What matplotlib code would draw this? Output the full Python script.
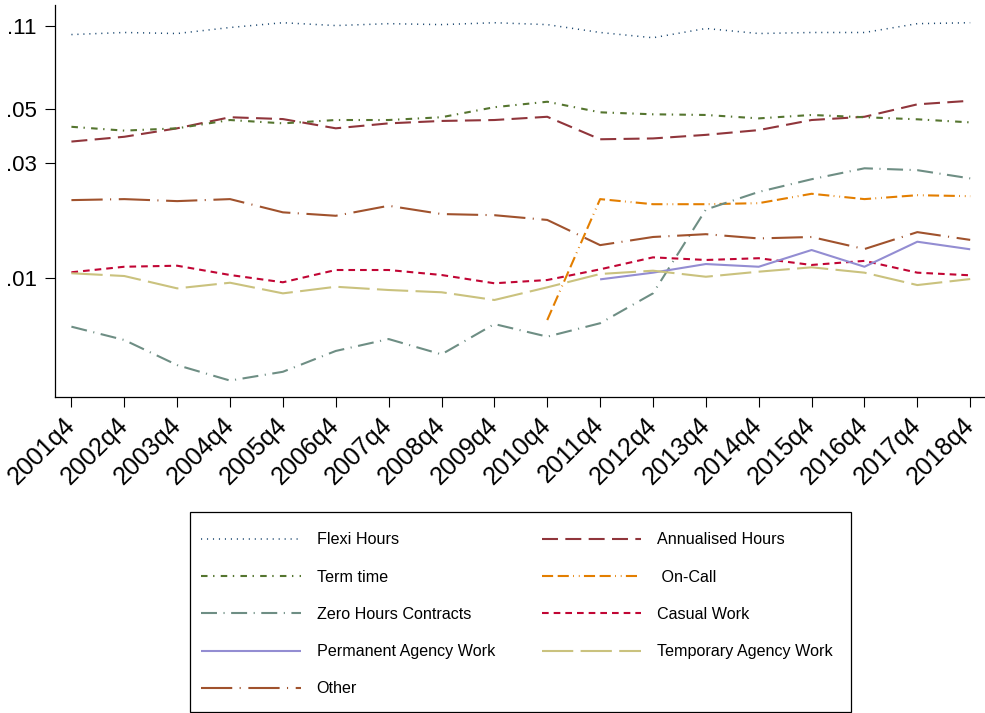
import numpy as np
import matplotlib
matplotlib.use("Agg")
import matplotlib.pyplot as plt
from matplotlib.patches import Rectangle
from matplotlib.ticker import NullLocator

plt.rcParams['font.family'] = ['Liberation Sans', 'DejaVu Sans']
plt.rcParams['lines.scale_dashes'] = False

nan = np.nan

quarters = ["2001q4", "2002q4", "2003q4", "2004q4", "2005q4", "2006q4",
            "2007q4", "2008q4", "2009q4", "2010q4", "2011q4", "2012q4",
            "2013q4", "2014q4", "2015q4", "2016q4", "2017q4", "2018q4"]

flexi_hours = [0.101, 0.103, 0.102, 0.108, 0.113, 0.110, 0.112, 0.111, 0.113,
               0.111, 0.103, 0.098, 0.107, 0.102, 0.103, 0.103, 0.112, 0.113]
annualised_hours = [0.0366, 0.0383, 0.0415, 0.0461, 0.0453, 0.0415, 0.0435, 0.0445, 0.0449,
                    0.0463, 0.0374, 0.0377, 0.0390, 0.0408, 0.0449, 0.0463, 0.0521, 0.0539]
term_time = [0.0421, 0.0406, 0.0415, 0.0449, 0.0435, 0.0449, 0.0449, 0.0461, 0.0507,
             0.0534, 0.0483, 0.0474, 0.0471, 0.0456, 0.0471, 0.0461, 0.0452, 0.0439]
on_call = [nan, nan, nan, nan, nan, nan, nan, nan, nan,
           0.00673, 0.0212, 0.0202, 0.0202, 0.0204, 0.0223, 0.0212, 0.0220, 0.0218]
zero_hours = [0.00632, 0.00557, 0.00439, 0.00379, 0.00412, 0.00502, 0.00562, 0.00486, 0.00648,
              0.00575, 0.00653, 0.00867, 0.0192, 0.0227, 0.0256, 0.0284, 0.0279, 0.0258]
casual_work = [0.01059, 0.01116, 0.01127, 0.01032, 0.00963, 0.01082, 0.01082, 0.01032, 0.00954,
               0.00984, 0.01089, 0.0122, 0.0119, 0.0121, 0.01135, 0.0118, 0.01055, 0.01029]
permanent_agency = [nan, nan, nan, nan, nan, nan, nan, nan, nan,
                    nan, 0.0099, 0.01055, 0.01145, 0.01116, 0.01308, 0.01116, 0.01415, 0.01317]
temporary_agency = [0.01049, 0.01022, 0.00909, 0.00959, 0.00867, 0.00923, 0.00895, 0.00876, 0.00814,
                    0.00918, 0.01042, 0.01075, 0.01015, 0.01065, 0.0111, 0.01055, 0.00938, 0.00993]
other = [0.0210, 0.0212, 0.0208, 0.0212, 0.0187, 0.0181, 0.0199, 0.0184, 0.0182,
         0.0174, 0.0137, 0.0148, 0.0152, 0.0146, 0.0148, 0.0132, 0.0155, 0.0144]

ytick_values = [0.01, 0.03, 0.05, 0.11]
ytick_labels = [".01", ".03", ".05", ".11"]

# (label, values, colour, dash pattern in points, line width)
series = [
    ("Flexi Hours", flexi_hours, "#1a476f", (0, (0.8, 3.5)), 1.1),
    ("Annualised Hours", annualised_hours, "#90353b", (0, (11.5, 5.3)), 1.5),
    ("Term time", term_time, "#55752f", (0, (4.7, 4.0, 1.0, 4.5)), 1.5),
    (" On-Call", on_call, "#e37e00", (0, (8.0, 3.3, 8.0, 3.1, 0.6, 3.5, 0.6, 3.1)), 1.5),
    ("Zero Hours Contracts", zero_hours, "#6e8e84", (0, (11.5, 4.7, 0.8, 4.7)), 1.5),
    ("Casual Work", casual_work, "#c10534", (0, (4.8, 3.6)), 1.5),
    ("Permanent Agency Work", permanent_agency, "#938dd2", "-", 1.5),
    ("Temporary Agency Work", temporary_agency, "#cac27e", (0, (22.5, 5.3)), 1.5),
    ("Other", other, "#a0522d", (0, (22.5, 5.3, 0.8, 5.5)), 1.5),
]

W, H = 985, 713
fig = plt.figure(figsize=(W / 100, H / 100), dpi=100)
ax = fig.add_axes([54.5 / W, 1 - 397.3 / H, 1 - 54.5 / W, (397.3 - 5) / H])

x = np.arange(len(quarters))
handles = []
for label, vals, color, ls, lw in series:
    line, = ax.plot(x, vals, color=color, linestyle=ls, linewidth=lw,
                    dash_capstyle='butt', solid_capstyle='butt', label=label)
    handles.append(line)

ax.set_yscale('log')
ax.set_ylim(0.003234, 0.1337)
ax.set_xlim(-0.32, 17.28)
ax.set_yticks(ytick_values)
ax.set_yticklabels(ytick_labels)
ax.yaxis.set_minor_locator(NullLocator())
ax.set_xticks(x)
ax.set_xticklabels(quarters, rotation=45, ha='right', va='center',
                   rotation_mode='anchor')

for side in ('top', 'right'):
    ax.spines[side].set_visible(False)
for side in ('left', 'bottom'):
    ax.spines[side].set_linewidth(0.9)

ax.tick_params(axis='y', length=7.2, width=0.8, pad=5.5, labelsize=16)
ax.tick_params(axis='x', length=7.2, width=0.8, pad=10, labelsize=18)

# Legend: two columns filled row by row
order = [0, 2, 4, 6, 8, 1, 3, 5, 7]
leg = fig.legend([handles[i] for i in order], [series[i][0] for i in order],
                 loc='upper left', bbox_to_anchor=(200.7 / W, 1 - 532.5 / H),
                 bbox_transform=fig.transFigure, ncol=2, frameon=False,
                 fontsize=11.6, handlelength=6.2, handletextpad=0.99,
                 columnspacing=2.9, labelspacing=1.38, borderpad=0,
                 borderaxespad=0)

fig.add_artist(Rectangle((190 / W, 1 - 711.5 / H), (851 - 190) / W, (711.5 - 512.3) / H,
                         transform=fig.transFigure, fill=False,
                         edgecolor='black', linewidth=0.9))

fig.savefig("out.png", dpi=100)
